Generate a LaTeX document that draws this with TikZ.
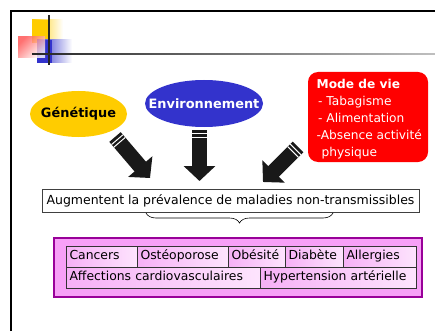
\documentclass[tikz,border=0pt]{standalone}
\usepackage{fontspec}
\setmainfont{DejaVu Sans}
\usepackage{tikz}
\usetikzlibrary{calc}
\usetikzlibrary{shapes.geometric}
\usetikzlibrary{arrows.meta}
\usetikzlibrary{decorations.pathreplacing}

\definecolor{genyellow}{RGB}{255,204,0}
\definecolor{envblue}{RGB}{51,51,204}
\definecolor{lifered}{RGB}{255,0,0}
\definecolor{boxpink}{RGB}{247,160,247}
\definecolor{boxpurple}{RGB}{153,0,153}
\definecolor{cellpink}{RGB}{246,176,246}
\definecolor{celllight}{RGB}{253,228,253}

\tikzset{
  factor/.style={ellipse, inner xsep=-14pt, inner ysep=0pt, font=\bfseries\fontsize{12.9}{14}\selectfont},
  blockarrow/.style={line width=15pt, -{Triangle[width=31pt,length=15pt]}},
  stripes/.style={white, line width=15pt, dash pattern=on 0pt off 3pt on 1pt off 2.5pt on 1pt off 500pt},
  cell/.style={draw=black!80, line width=0.6pt, left color=cellpink, right color=celllight,
               inner xsep=3.5pt, inner ysep=0pt, minimum height=21pt, align=left, text width=#1,
               text height=9.5pt, text depth=3pt}
}

\begin{document}
\begin{tikzpicture}[x=1pt, y=-1pt]
    \useasboundingbox (0,0) rectangle (435,331);
    % logo
    \shade[left color=genyellow, right color=white] (32,20) rectangle (63,43);
    \fill[genyellow] (32,20) rectangle (50,43);
    \shade[left color=envblue, right color=white] (37,40) rectangle (72,63);
    \fill[envblue] (37,40) rectangle (52,63);
    \shade[left color=red!70, right color=white, shading angle=45, opacity=0.8] (18,37) rectangle (45,58);
    \draw[black!85, line width=1.6pt] (49,15) -- (49,65);
    \shade[left color=black!85, right color=black!25] (32,53.2) rectangle (435,54.8);
    \draw[black, line width=2pt] (11,331) -- (11,11) -- (435,11);

    \node[factor, fill=genyellow, minimum width=97pt, minimum height=46pt] (gen) at (78.5,114) {Génétique};
    \node[factor, fill=envblue, text=white, minimum width=118pt, minimum height=47pt] (env) at (204,103.5) {Environnement};
    \node[fill=lifered, rounded corners=10pt, minimum width=120pt, minimum height=90pt, inner sep=0pt] (life) at (368,117) {};
    \node[anchor=north west, text=white, align=left, inner sep=0pt,
          font=\fontsize{12.2}{17}\selectfont] (lifetxt) at (316.5,79.5)
      {\textbf{Mode de vie}\\\hspace{1.5pt}- Tabagisme\\\hspace{1.5pt}- Alimentation\\-Absence activité\\\hspace{5pt}physique};

    \node[draw=black!75, line width=0.6pt, minimum width=377pt, minimum height=23pt, inner sep=0pt,
          font=\fontsize{12.5}{14}\selectfont] (prev) at (230.5,200.5)
      {Augmentent la prévalence de maladies non-transmissibles};

    \coordinate (t1) at (115,137);
    \coordinate (h1) at (150,178);
    \coordinate (t2) at (199.5,130);
    \coordinate (h2) at (199.5,181);
    \coordinate (t3) at (298,147);
    \coordinate (h3) at (263,182);
    \foreach \a/\b in {t1/h1, t2/h2, t3/h3} {
      \draw[blockarrow, black!90] (\a) -- (\b);
      \draw[stripes] (\a) -- (\b);
    }

    \coordinate (bl) at (146,213);
    \coordinate (br) at (333,213);
    \draw[decorate, decoration={brace, amplitude=10pt, mirror}, line width=0.6pt] (bl) -- (br);

    \node[draw=boxpurple, fill=boxpink, line width=1.2pt, minimum width=368pt, minimum height=59pt] (dis) at (238,267.5) {};
    \begin{scope}[font=\fontsize{12.4}{14}\selectfont]
      \node[cell=64pt] (c1) at (101.5,256.5) {Cancers};
      \node[cell=84pt] (c2) at (182.5,256.5) {Ostéoporose};
      \node[cell=50pt] (c3) at (256.5,256.5) {Obésité};
      \node[cell=51pt] (c4) at (314,256.5) {Diabète};
      \node[cell=66pt] (c5) at (379.5,256.5) {Allergies};
      \node[cell=187pt] (c6) at (163,277.5) {Affections cardiovasculaires};
      \node[cell=149pt] (c7) at (338,277.5) {Hypertension artérielle};
    \end{scope}
\end{tikzpicture}
\end{document}
